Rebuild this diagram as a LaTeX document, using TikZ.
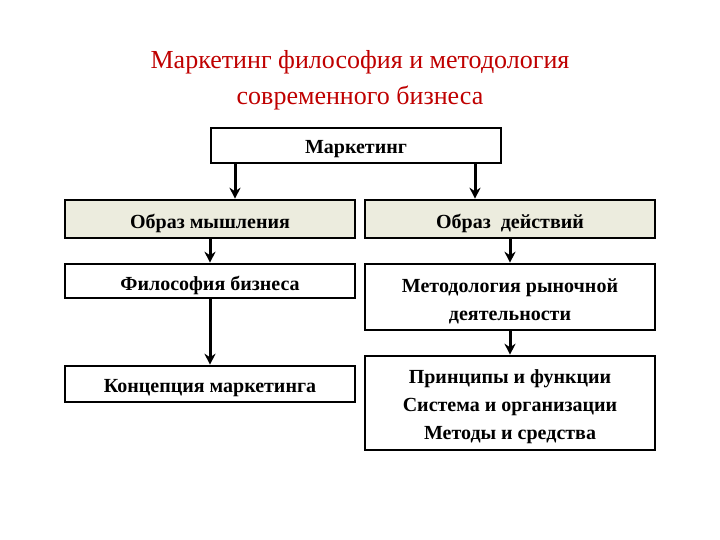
\documentclass[tikz,border=0pt]{standalone}
\usepackage{fontspec}
\usetikzlibrary{arrows.meta}
\setmainfont{Liberation Serif}
\begin{document}
\begin{tikzpicture}[x=1pt,y=-1pt,
 box/.style={draw=black,line width=2.6pt,minimum width=290pt,inner sep=0pt},
 txt/.style={align=center,font=\fontsize{20}{28}\selectfont\bfseries,inner sep=0pt,yshift=-4pt},
 arr/.style={-{Stealth[length=11pt,width=11pt]},line width=3pt}]
\useasboundingbox (0,0) rectangle (720,540);
\node[text=red!75!black,align=center,font=\fontsize{26}{36}\selectfont] (title) at (360,80) {Маркетинг философия и методология\\современного бизнеса};
\node[box,minimum height=35pt] (m) at (356,145.5) {};
\node[txt] (tm) at (m) {Маркетинг};
\node[box,minimum height=38pt,fill={rgb,255:red,236;green,236;blue,222}] (l1) at (210,219) {};
\node[txt] (tl1) at (l1) {Образ мышления};
\node[box,minimum height=38pt,fill={rgb,255:red,236;green,236;blue,222}] (r1) at (510,219) {};
\node[txt] (tr1) at (r1) {Образ\ \ действий};
\node[box,minimum height=34pt] (l2) at (210,281) {};
\node[txt] (tl2) at (l2) {Философия бизнеса};
\node[box,minimum height=66pt] (r2) at (510,297) {};
\node[txt] (tr2) at (r2) {Методология рыночной\\деятельности};
\node[box,minimum height=94pt] (r3) at (510,403) {};
\node[txt] (tr3) at (r3) {Принципы и функции\\Система и организации\\Методы и средства};
\node[box,minimum height=36pt] (l3) at (210,384) {};
\node[txt] (tl3) at (l3) {Концепция маркетинга};
\draw[arr] (m.south -| 235,0) -- (l1.north -| 235,0);
\draw[arr] (m.south -| 475,0) -- (r1.north -| 475,0);
\draw[arr] (l1) -- (l2);
\draw[arr] (l2) -- (l3);
\draw[arr] (r1) -- (r2);
\draw[arr] (r2) -- (r3);
\end{tikzpicture}
\end{document}
